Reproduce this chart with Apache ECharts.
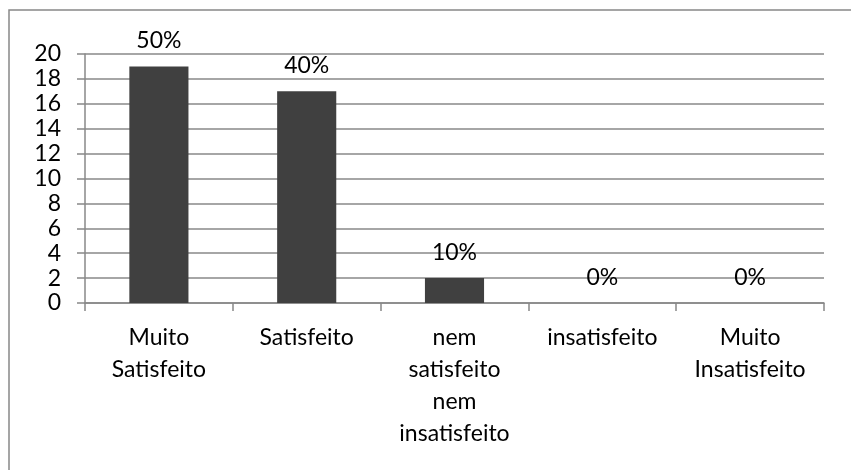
<!DOCTYPE html>
<html>
<head>
<meta charset="utf-8">
<script src="https://cdn.jsdelivr.net/npm/echarts@6/dist/echarts.min.js"></script>
<style>html,body{margin:0;padding:0;background:#fff}#c{width:851px;height:470px}</style>
</head>
<body>
<div id="c"></div>
<script>
var categories = ["Muito Satisfeito", "Satisfeito", "nem satisfeito nem insatisfeito", "insatisfeito", "Muito Insatisfeito"];
var values = [19, 17, 2, 0, 0];
var percentLabels = ["50%", "40%", "10%", "0%", "0%"];
var yMin = 0, yMax = 20, yStep = 2;

var FONT = 'Lato';
var chart = echarts.init(document.getElementById('c'));
chart.setOption({
  animation: false,
  backgroundColor: '#fff',
  graphic: [{
    type: 'rect', shape: {x: 9, y: 10, width: 860, height: 480},
    style: {fill: 'none', stroke: '#888', lineWidth: 1.5}, silent: true
  }],
  grid: {left: 85, right: 27, top: 54, bottom: 167, containLabel: false},
  xAxis: {
    type: 'category', data: categories,
    axisLine: {lineStyle: {color: '#888', width: 1.5}},
    axisTick: {show: true, length: 8, lineStyle: {color: '#888', width: 1.5}},
    axisLabel: {
      color: '#000', fontFamily: FONT, fontSize: 23, lineHeight: 32, margin: 19, interval: 0,
      formatter: function (v) { return v.split(' ').join('\n'); }
    }
  },
  yAxis: {
    type: 'value', min: yMin, max: yMax, interval: yStep,
    axisLine: {show: true, lineStyle: {color: '#888', width: 1.5}},
    axisTick: {show: true, length: 8, lineStyle: {color: '#888', width: 1.5}},
    splitLine: {lineStyle: {color: '#888', width: 1.5}},
    axisLabel: {color: '#000', fontFamily: FONT, fontSize: 23, margin: 24}
  },
  series: [{
    type: 'bar', data: values, barWidth: '40%',
    itemStyle: {color: '#404040'},
    label: {
      show: true, position: 'top', distance: 14, color: '#000', fontFamily: FONT, fontSize: 23,
      formatter: function (p) { return percentLabels[p.dataIndex]; }
    }
  }]
});
</script>
</body>
</html>
